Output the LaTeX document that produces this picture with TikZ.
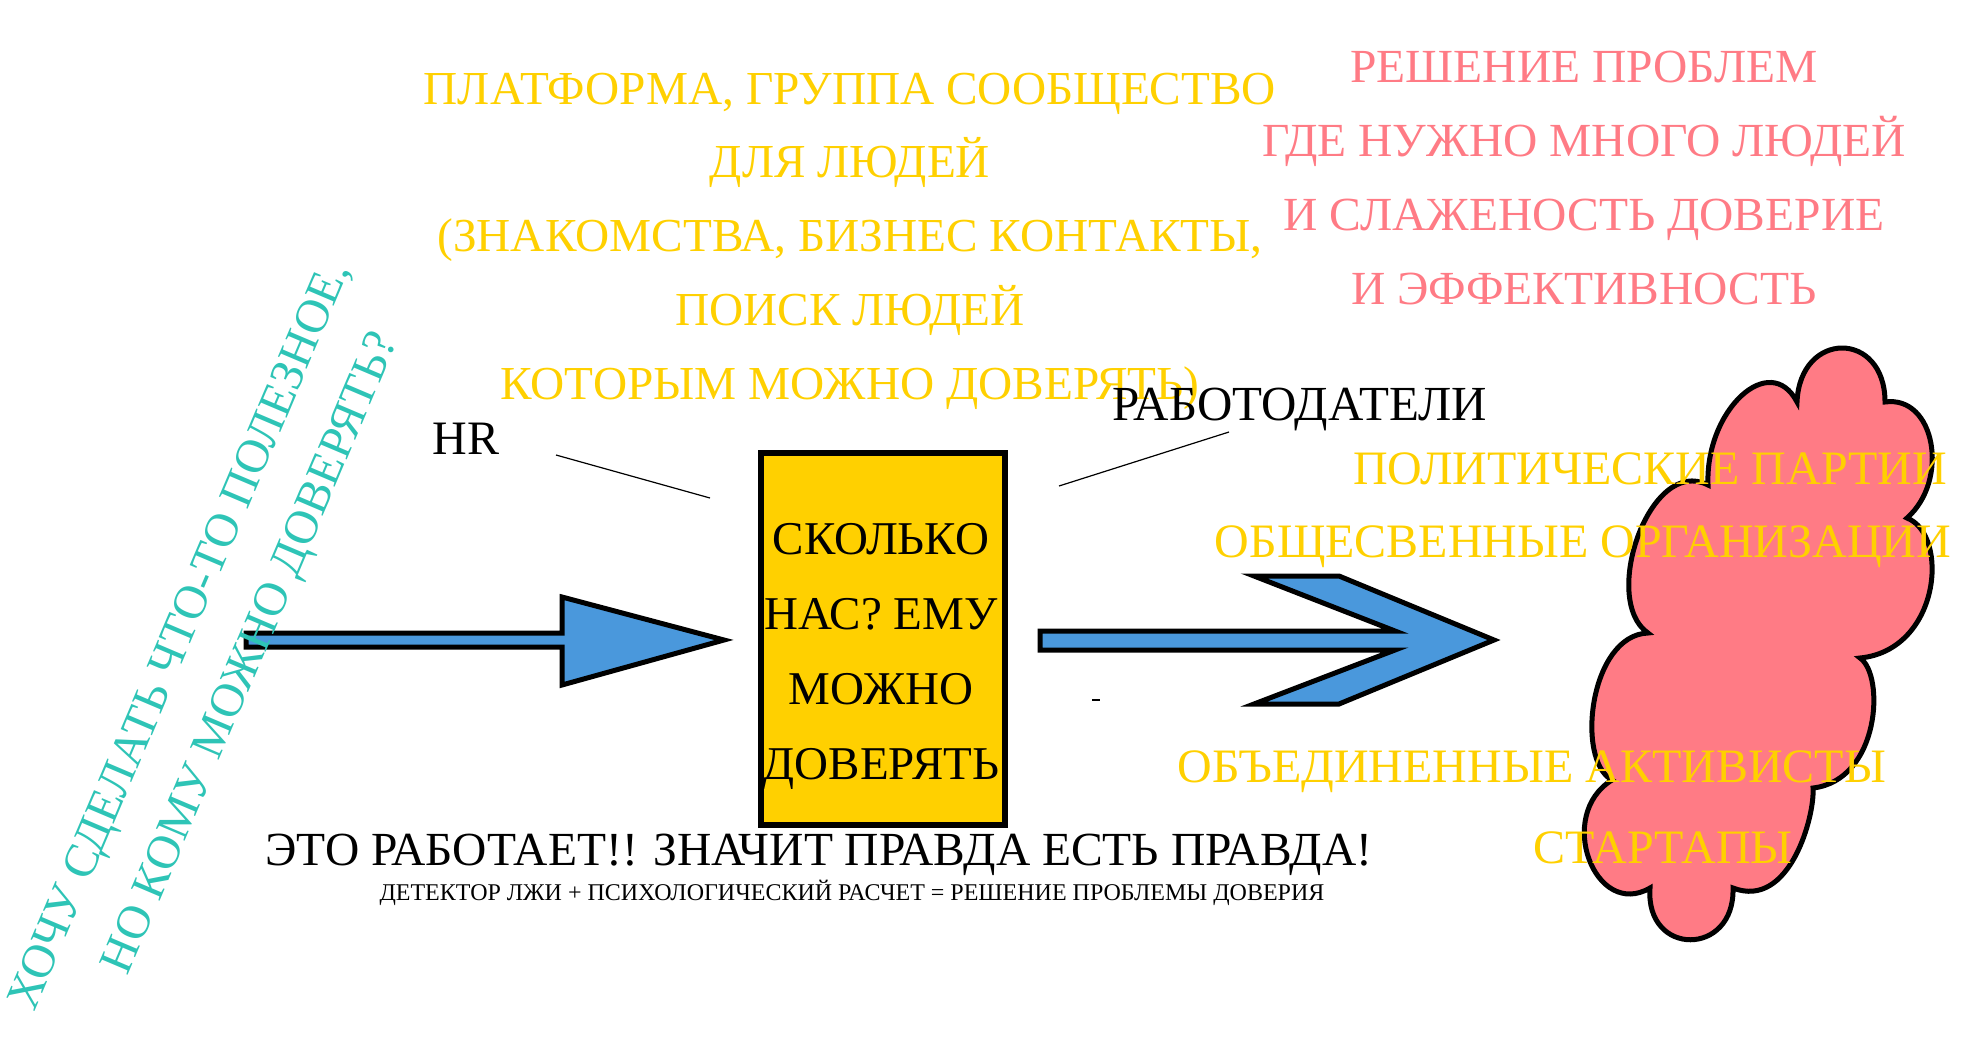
\documentclass[tikz,border=0pt]{standalone}
\usepackage{fontspec}
\setmainfont{Liberation Serif}
\definecolor{ylw}{HTML}{FFD000}
\definecolor{pinkc}{HTML}{FF7B85}
\definecolor{tealc}{HTML}{2EC4B6}
\definecolor{bluec}{HTML}{4A98DC}
\begin{document}
\begin{tikzpicture}[x=1pt,y=-1pt,
  txt/.style={inner sep=0pt,anchor=base,align=center},
  ytxt/.style={txt,text=ylw,font=\fontsize{48}{73.75}\selectfont},
  ptxt/.style={txt,text=pinkc,font=\fontsize{47.5}{74}\selectfont},
  btxt/.style={txt,text=black,font=\fontsize{48}{74}\selectfont},
  ttxt/.style={inner sep=0pt,anchor=base,text=tealc,font=\fontsize{47.5}{50}\selectfont,rotate=67},
  bigarrow/.style={fill=bluec,draw=black,line width=5pt,line join=miter},
  thin/.style={draw=black,line width=1.2pt}]
\useasboundingbox (0,0) rectangle (1980,1050);

% cloud
\draw[fill=pinkc,draw=black,line width=5pt]
  (1797,402) .. controls (1800,330) and (1885,330) .. (1885,402)
  .. controls (1935,395) and (1950,480) .. (1907,518)
  .. controls (1950,535) and (1940,650) .. (1860,658)
  .. controls (1885,675) and (1880,780) .. (1813,788)
  .. controls (1815,815) and (1790,910) .. (1733,888)
  .. controls (1735,957) and (1645,957) .. (1650,888)
  .. controls (1595,920) and (1555,815) .. (1612,780)
  .. controls (1575,760) and (1590,635) .. (1648,633)
  .. controls (1600,600) and (1650,455) .. (1708,485)
  .. controls (1705,410) and (1770,350) .. (1797,402) -- cycle;

% arrows
\draw[bigarrow] (246,633) -- (562,633) -- (562,597) -- (724,640) -- (562,685) -- (562,647) -- (246,647) -- cycle;
\draw[bigarrow] (1040,631) -- (1395,631) -- (1254,576) -- (1339,576) -- (1494,640) -- (1339,704) -- (1254,704) -- (1395,650) -- (1040,650) -- cycle;

% central box
\node[draw=black,fill=ylw,line width=6pt,minimum width=244pt,minimum height=372pt,inner sep=0pt] (box) at (883,639) {};
\node[txt,font=\fontsize{47}{74.7}\selectfont] (boxtext) at (881,779) {СКОЛЬКО\\НАС? ЕМУ\\МОЖНО\\ДОВЕРЯТЬ};

% top texts
\node[ytxt,font=\fontsize{47.3}{73.75}\selectfont] (platform) at (850,399) {ПЛАТФОРМА, ГРУППА СООБЩЕСТВО\\ДЛЯ ЛЮДЕЙ\\(ЗНАКОМСТВА, БИЗНЕС КОНТАКТЫ,\\ПОИСК ЛЮДЕЙ\\КОТОРЫМ МОЖНО ДОВЕРЯТЬ)};
\node[ptxt] (problems) at (1584,304) {РЕШЕНИЕ ПРОБЛЕМ\\ГДЕ НУЖНО МНОГО ЛЮДЕЙ\\И СЛАЖЕНОСТЬ ДОВЕРИЕ\\И ЭФФЕКТИВНОСТЬ};

% labels
\node[btxt] (hr) at (466,454) {HR};
\node[btxt,font=\fontsize{49}{74}\selectfont] (employers) at (1300,420) {РАБОТОДАТЕЛИ};
\coordinate (hrA) at (556,455);
\coordinate (hrB) at (710,498);
\coordinate (emA) at (1229,432);
\coordinate (emB) at (1059,486);
\draw[thin] (hrA) -- (hrB);
\draw[thin] (emA) -- (emB);
\coordinate (dA) at (1092,700);
\coordinate (dB) at (1100,700);
\draw[black,line width=1.5pt] (dA) -- (dB);

% right yellow texts
\node[ytxt] (parties) at (1650,484) {ПОЛИТИЧЕСКИЕ ПАРТИИ};
\node[ytxt] (orgs) at (1583,557) {ОБЩЕСВЕННЫЕ ОРГАНИЗАЦИИ};
\node[ytxt] (activists) at (1532,782) {ОБЪЕДИНЕННЫЕ АКТИВИСТЫ};
\node[ytxt] (startups) at (1663,863) {СТАРТАПЫ};

% bottom texts
\node[btxt,font=\fontsize{47.5}{74}\selectfont] (works) at (819,865) {ЭТО РАБОТАЕТ!! ЗНАЧИТ ПРАВДА ЕСТЬ ПРАВДА!};
\node[txt,font=\fontsize{24}{28}\selectfont] (detector) at (852,900) {ДЕТЕКТОР ЛЖИ + ПСИХОЛОГИЧЕСКИЙ РАСЧЕТ = РЕШЕНИЕ ПРОБЛЕМЫ ДОВЕРИЯ};

% rotated teal texts
\node[ttxt] (want) at (192,641) {ХОЧУ СДЕЛАТЬ ЧТО-ТО ПОЛЕЗНОЕ,};
\node[ttxt] (whom) at (263,658) {НО КОМУ МОЖНО ДОВЕРЯТЬ?};
\end{tikzpicture}
\end{document}
